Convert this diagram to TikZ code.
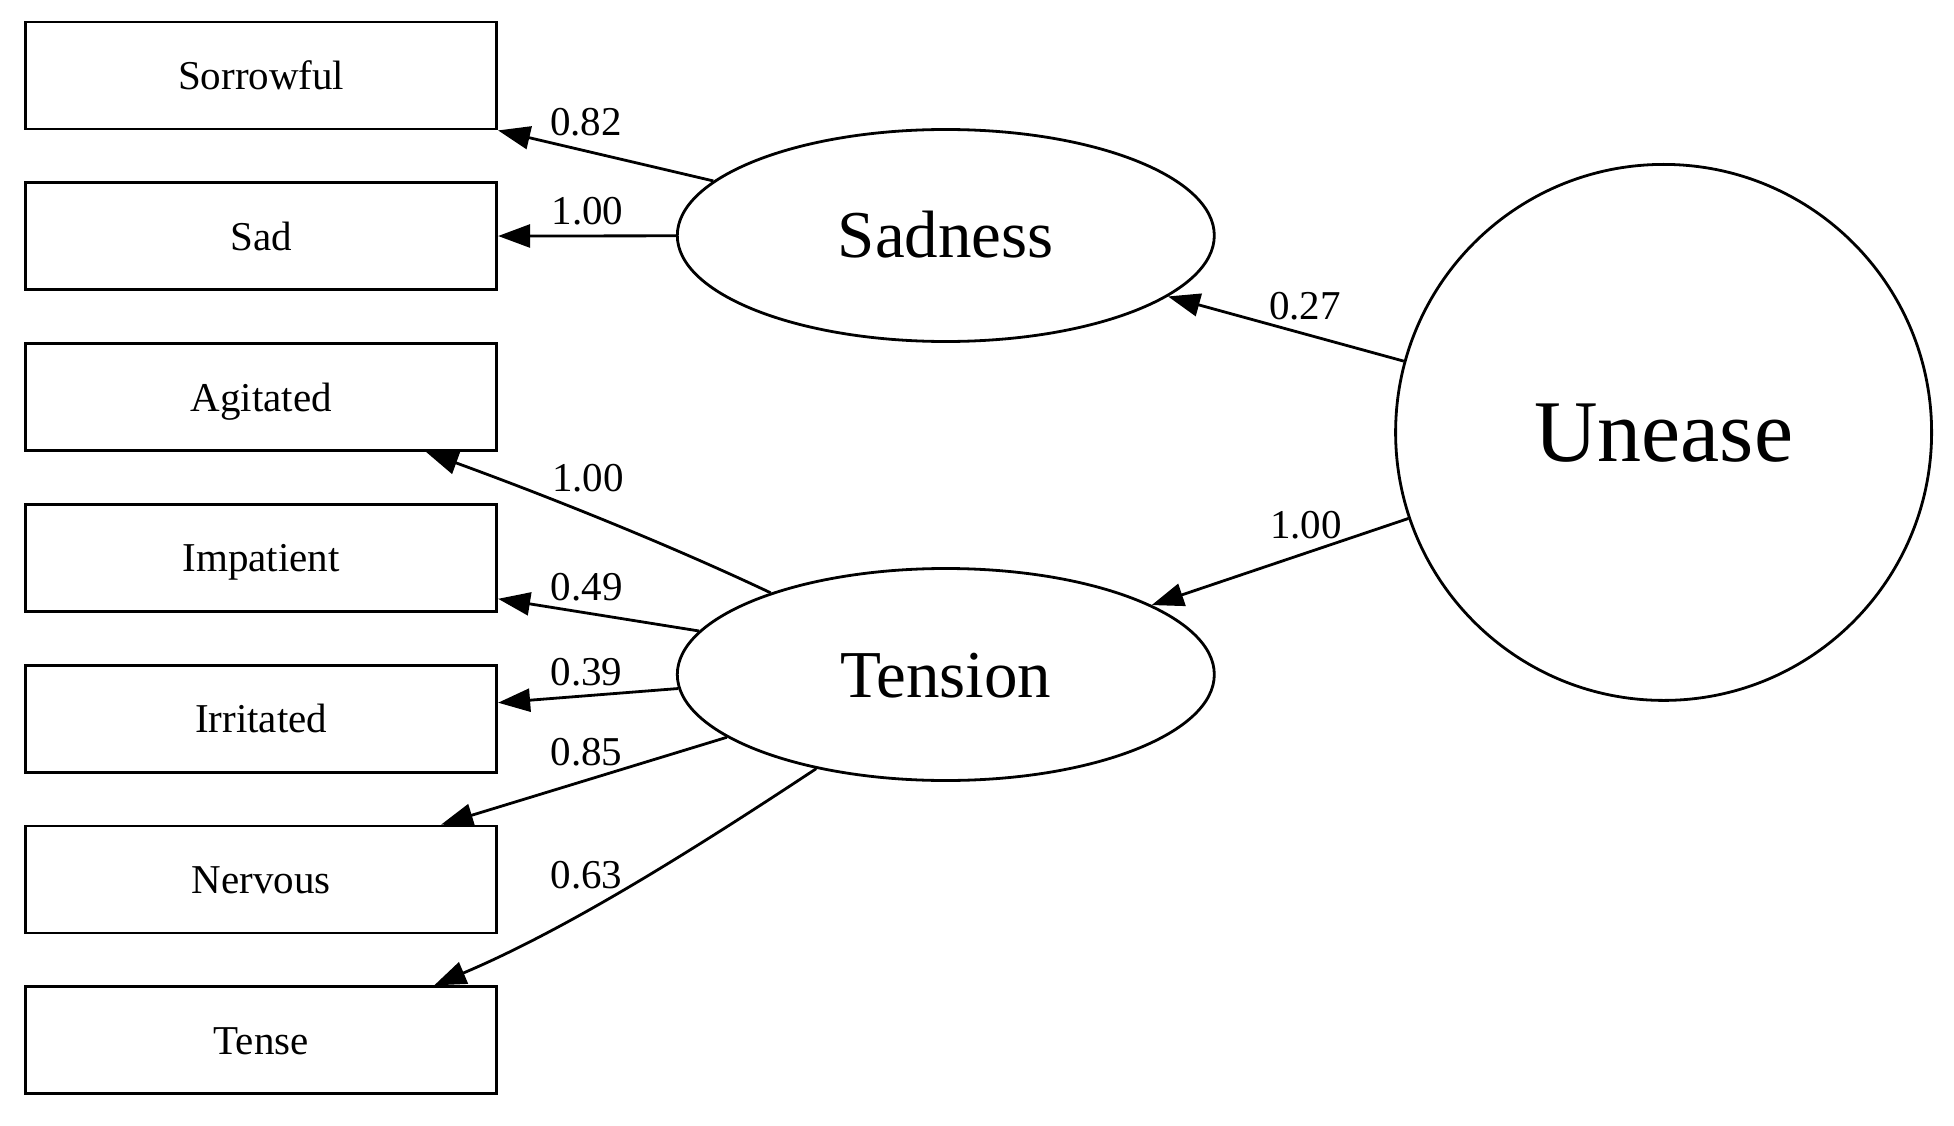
\documentclass[tikz,border=0pt]{standalone}
\usepackage{fontspec}
\setmainfont{Liberation Serif}
\usetikzlibrary{arrows.meta,shapes.geometric,calc}
\begin{document}
\begin{tikzpicture}[x=1pt,y=-1pt,
  obs/.style={draw, line width=2.8pt, rectangle, minimum width=471pt, minimum height=107pt, inner sep=0pt, font=\fontsize{41}{49}\selectfont, text height=28pt, text depth=0pt},
  lat/.style={draw, line width=2.8pt, ellipse, minimum width=537pt, minimum height=212pt, inner sep=0pt, font=\fontsize{67}{80}\selectfont, text height=45pt, text depth=0pt},
  big/.style={draw, line width=2.8pt, circle, minimum size=536pt, inner sep=0pt, font=\fontsize{88}{100}\selectfont, text height=59pt, text depth=0pt},
  lbl/.style={inner sep=0pt, font=\fontsize{41}{49}\selectfont},
  edge/.style={line width=2.8pt, -{Triangle[length=32pt,width=23pt]}}]
\fill[white] (0,0) rectangle (1954,1126);
\useasboundingbox (0,0) rectangle (1954,1126);
% observed variables
\node[obs] (sorrowful) at (261.2,75.5) {Sorrowful};
\node[obs] (sad) at (261.2,236.3) {Sad};
\node[obs] (agitated) at (261.2,397.1) {Agitated};
\node[obs] (impatient) at (261.2,557.9) {Impatient};
\node[obs] (irritated) at (261.2,718.7) {Irritated};
\node[obs] (nervous) at (261.2,879.5) {Nervous};
\node[obs] (tense) at (261.2,1040.3) {Tense};
% latent variables
\node[lat] (sadness) at (945.8,235.5) {Sadness};
\node[lat] (tension) at (945.8,674.5) {Tension};
\node[big] (unease) at (1663.6,432.4) {Unease};
% connectors
\draw[edge] (sadness) -- (sorrowful.south east);
\draw[edge] (sadness) -- (sad);
\draw[edge] (unease) -- (sadness);
\draw[edge] (unease) -- (tension);
\draw[edge] (tension.155) .. controls +(-110,-52) and +(110,40) .. ($(agitated.south east)+(-72,0)$);
\draw[edge] (tension.170) -- ($(impatient.south east)+(0,-14)$);
\draw[edge] (tension.183) -- ($(irritated.east)+(0,-16)$);
\draw[edge] (tension.196) -- ($(nervous.north east)+(-57,0)$);
\draw[edge] (tension.216) .. controls +(-130,86) and +(130,-55) .. ($(tense.north east)+(-64,0)$);
% labels
\node[lbl] (l1) at (586,121.7) {0.82};
\node[lbl] (l2) at (587.5,211) {1.00};
\node[lbl] (l3) at (1305,306) {0.27};
\node[lbl] (l4) at (1306,525) {1.00};
\node[lbl] (l5) at (588,478) {1.00};
\node[lbl] (l6) at (586.7,586.7) {0.49};
\node[lbl] (l7) at (586.5,672) {0.39};
\node[lbl] (l8) at (586.5,752) {0.85};
\node[lbl] (l9) at (586.5,875) {0.63};
\end{tikzpicture}
\end{document}
